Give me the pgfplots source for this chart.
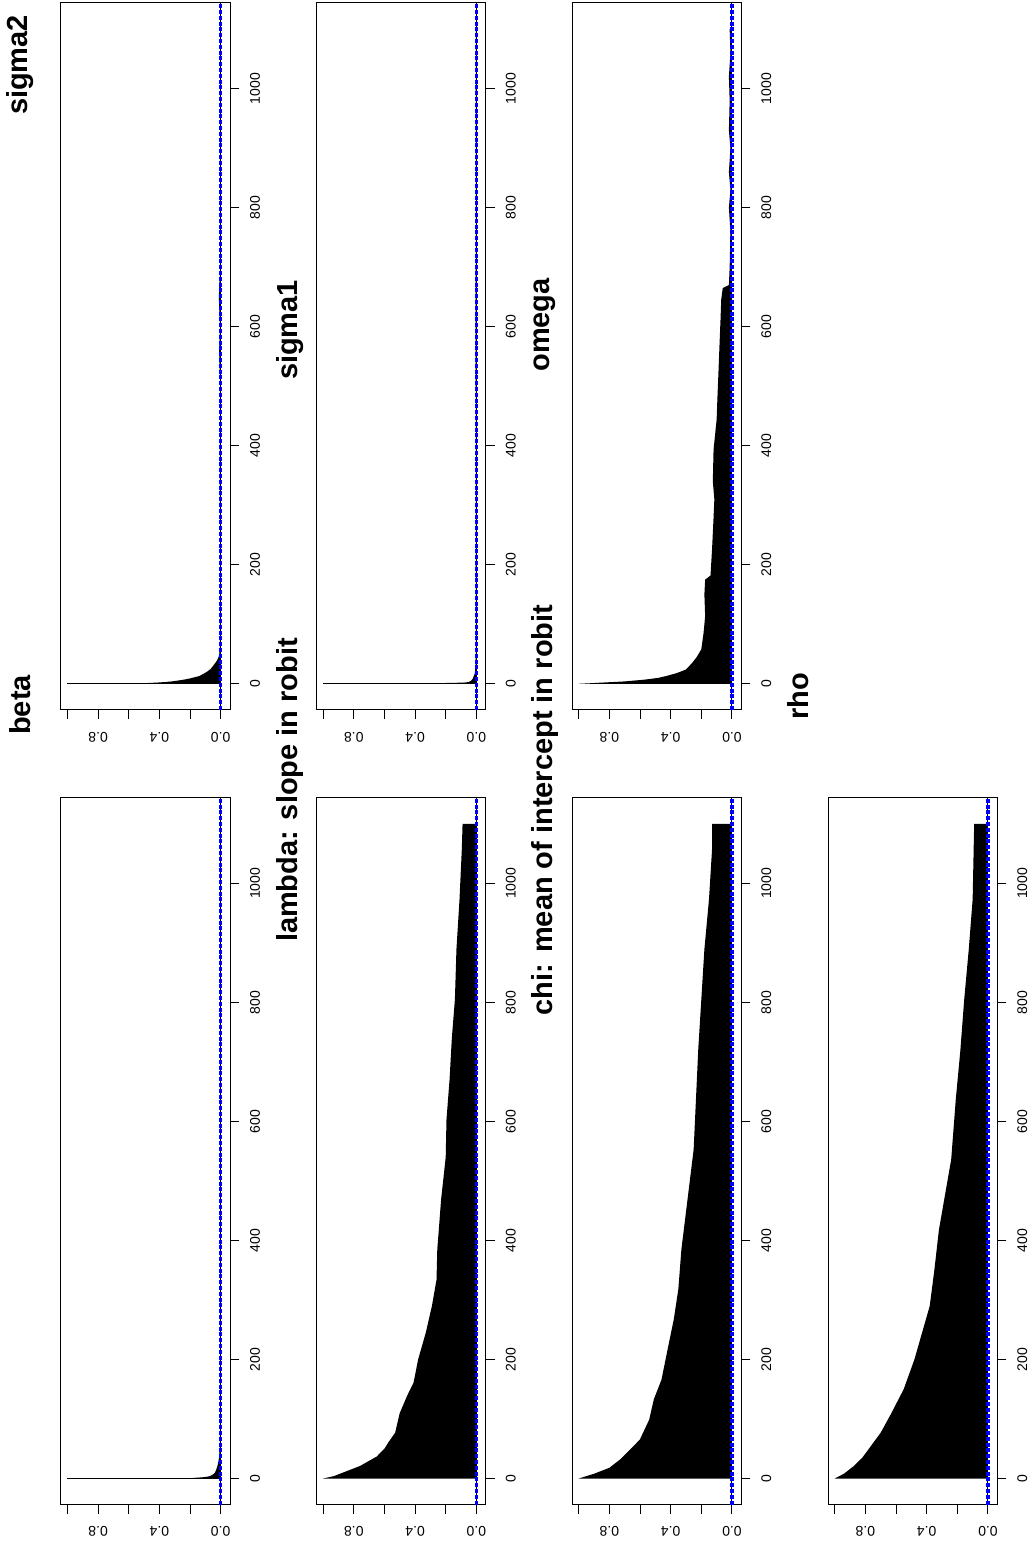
\documentclass[border=0pt]{standalone}
\usepackage{pgfplots}
\pgfplotsset{compat=1.18}
\usepackage{fontspec}
\setmainfont{Liberation Sans}

% Autocorrelation panels, drawn turned a quarter turn:
% ACF runs right-to-left, lag runs bottom-to-top.
\pgfplotsset{
  acfpanel/.style={
    scale only axis, width=84.5pt, height=353.5pt,
    x dir=reverse, xmin=-0.061, xmax=1.042, ymin=-44, ymax=1144,
    axis line style={line width=0.5pt},
    every tick/.style={black, line width=0.5pt},
    tick align=outside, major tick length=4.5pt,
    xtick={0,0.2,0.4,0.6,0.8,1},
    xticklabels={0.0,,0.4,,0.8,},
    ytick={0,200,400,600,800,1000},
    yticklabels={0,200,400,600,800,1000},
    xtick pos=left, xticklabel pos=left,
    ytick pos=right, yticklabel pos=right,
    xticklabel style={font=\fontsize{7}{8}\selectfont, rotate=180, anchor=center},
    yticklabel style={font=\fontsize{7}{8}\selectfont, rotate=90, anchor=center},
    xticklabel shift=9pt, yticklabel shift=8pt,
    /pgf/number format/assume math mode=true,
  },
  acfarea/.style={fill=black, draw=none},
  lagzero/.style={xcomb, black, line width=0.5pt, mark=none},
  zeroline/.style={black, line width=0.5pt},
  ciline/.style={blue, line width=1.1pt, dash pattern=on 2pt off 0.9pt},
}
\newcommand{\cilines}{%
  \addplot[zeroline] coordinates {(0,-44) (0,1144)};
  \addplot[ciline] coordinates {(0.003,-44) (0.003,1144)};
  \addplot[ciline] coordinates {(-0.003,-44) (-0.003,1144)};
}
\newcommand{\ptitle}[2]{\node[rotate=90, font=\fontsize{14.5}{17}\selectfont\bfseries] at #1 {#2};}

\begin{document}
\begin{tikzpicture}
\useasboundingbox (0,0) rectangle (516.5pt,773pt);

% ---------- sigma2 ----------
\begin{axis}[acfpanel, at={(30.5pt,418pt)}, anchor=south west]
\addplot[acfarea] coordinates {
 (0,1) (0.50,1) (0.42,2) (0.36,3) (0.32,4) (0.29,5) (0.24,7) (0.20,9)
 (0.17,11) (0.14,13) (0.11,17) (0.085,21) (0.065,25) (0.05,30) (0.035,35)
 (0.022,40) (0.012,46) (0.006,55) (0.004,80) (0.003,200) (0.005,350)
 (0.003,500) (0.010,560) (0.004,600) (0.012,650) (0.003,700) (0.002,900)
 (0.004,1100) (0,1100)};
\addplot[lagzero] coordinates {(1,0)};
\cilines
\end{axis}

% ---------- sigma1 ----------
\begin{axis}[acfpanel, at={(158.35pt,418pt)}, anchor=south west]
\addplot[acfarea] coordinates {
 (0,1) (0.26,1) (0.08,2) (0.05,3) (0.035,5) (0.025,8) (0.018,12) (0.010,18)
 (0.005,30) (0.003,60) (0.004,200) (0.003,400) (0.005,600) (0.003,800)
 (0.004,1000) (0.003,1100) (0,1100)};
\addplot[lagzero] coordinates {(1,0)};
\cilines
\end{axis}

% ---------- omega ----------
\begin{axis}[acfpanel, at={(286.15pt,418pt)}, anchor=south west]
\addplot[acfarea] coordinates {
 (0,0) (1,0) (0.92,1) (0.85,2) (0.70,4) (0.57,7) (0.48,10) (0.43,13)
 (0.36,18) (0.30,24) (0.26,35) (0.23,45) (0.20,58) (0.185,86) (0.175,114)
 (0.18,150) (0.175,175) (0.14,182) (0.13,226) (0.12,280) (0.115,310)
 (0.125,340) (0.12,394) (0.10,444) (0.095,480) (0.09,511) (0.08,578)
 (0.075,610) (0.07,646) (0.06,665) (0.02,670) (0.015,700) (0.01,760)
 (0.02,800) (0.01,830) (0.02,860) (0.01,900) (0.02,930) (0.015,980)
 (0.02,1020) (0.01,1060) (0.015,1100) (0,1100)};
\cilines
\end{axis}

% ---------- beta ----------
\begin{axis}[acfpanel, at={(30.5pt,20.65pt)}, anchor=south west]
\addplot[acfarea] coordinates {
 (0,1) (0.18,1) (0.12,2) (0.09,3) (0.07,4) (0.055,6) (0.045,8) (0.037,10)
 (0.030,14) (0.022,20) (0.015,28) (0.010,36) (0.006,50) (0.004,80)
 (0.003,150) (0.004,300) (0.002,500) (0.003,700) (0.002,900) (0.003,1100)
 (0,1100)};
\addplot[lagzero] coordinates {(1,0)};
\cilines
\end{axis}

% ---------- lambda ----------
\begin{axis}[acfpanel, at={(158.35pt,20.65pt)}, anchor=south west]
\addplot[acfarea] coordinates {
 (0,0) (1,0) (0.93,4) (0.87,10) (0.76,21) (0.65,37) (0.60,50) (0.576,60)
 (0.53,77) (0.50,110) (0.45,140) (0.41,161) (0.38,200) (0.33,245)
 (0.29,290) (0.26,334) (0.255,385) (0.23,469) (0.20,540) (0.195,603)
 (0.175,670) (0.16,740) (0.14,805) (0.13,889) (0.11,973) (0.095,1057)
 (0.09,1100) (0,1100)};
\cilines
\end{axis}

% ---------- chi ----------
\begin{axis}[acfpanel, at={(286.15pt,20.65pt)}, anchor=south west]
\addplot[acfarea] coordinates {
 (0,0) (1,0) (0.90,8) (0.80,18) (0.73,32) (0.64,55) (0.60,66) (0.54,99)
 (0.51,133) (0.46,166) (0.42,217) (0.38,267) (0.35,318) (0.33,385)
 (0.29,469) (0.25,553) (0.235,637) (0.22,721) (0.20,805) (0.18,889)
 (0.15,973) (0.13,1057) (0.13,1100) (0,1100)};
\cilines
\end{axis}

% ---------- rho ----------
\begin{axis}[acfpanel, at={(414.15pt,20.65pt)}, anchor=south west]
\addplot[acfarea] coordinates {
 (0,0) (1,0) (0.94,8) (0.875,21) (0.82,35) (0.78,49) (0.70,77) (0.63,110)
 (0.55,150) (0.48,200) (0.43,245) (0.38,290) (0.35,350) (0.32,418)
 (0.24,536) (0.21,637) (0.18,720) (0.155,805) (0.125,890) (0.10,973)
 (0.09,1100) (0,1100)};
\cilines
\end{axis}

% ---------- panel titles ----------
\ptitle{(10pt,740.5pt)}{sigma2}
\ptitle{(10pt,420.5pt)}{beta}
\ptitle{(145pt,608pt)}{sigma1}
\ptitle{(145pt,378pt)}{lambda: slope in robit}
\ptitle{(272.5pt,610.5pt)}{omega}
\ptitle{(272.5pt,368pt)}{chi: mean of intercept in robit}
\ptitle{(399pt,425pt)}{rho}
\end{tikzpicture}
\end{document}
